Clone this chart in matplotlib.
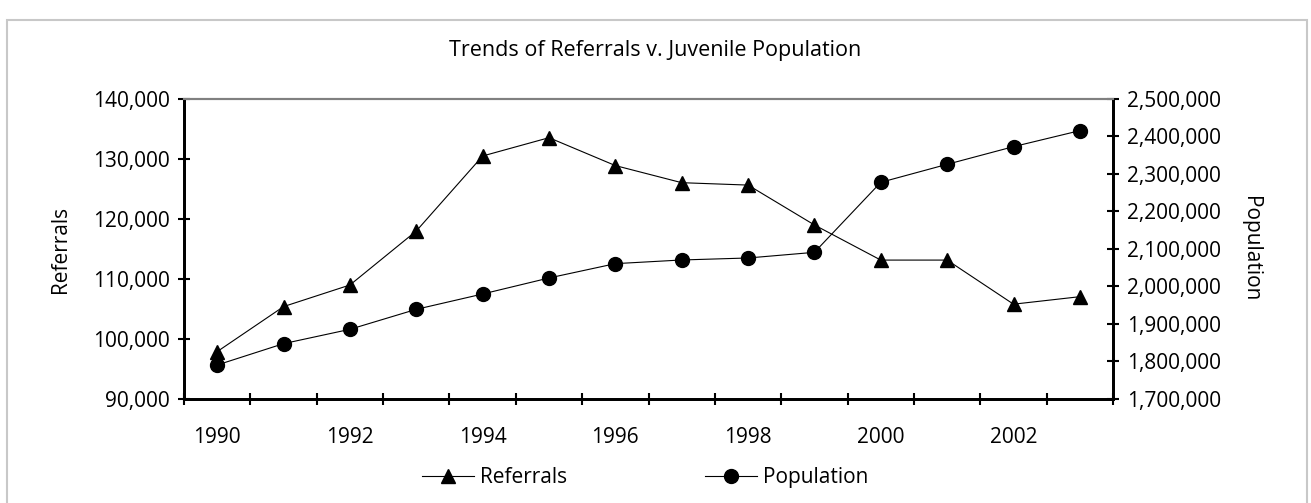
"""Trends of Referrals v. Juvenile Population"""
import numpy as np
import matplotlib
matplotlib.use("Agg")
import matplotlib.pyplot as plt
from matplotlib.patches import Rectangle
from matplotlib.ticker import FuncFormatter, FixedLocator

years = [1990, 1991, 1992, 1993, 1994, 1995, 1996,
         1997, 1998, 1999, 2000, 2001, 2002, 2003]
referrals = [97900, 105400, 109000, 118000, 130500, 133550, 128900,
             126050, 125650, 119000, 113150, 113150, 105800, 107050]
population = [1790700, 1847600, 1885800, 1939100, 1980000, 2022700, 2060900,
              2070700, 2076000, 2091100, 2277800, 2325800, 2372900, 2415600]
year_labels = ["1990", "1992", "1994", "1996", "1998", "2000", "2002"]

plt.rcParams['font.family'] = ['Open Sans', 'DejaVu Sans']


def comma(v, pos):
    """thousands separator"""
    return f"{int(v):,}"


def main():
    """Draw the chart"""
    fig = plt.figure(figsize=(13.11, 5.03), dpi=100)
    ax = fig.add_axes([0.1404, 0.2068, 0.7086, 0.5964])
    ax2 = ax.twinx()

    x = np.arange(len(years))
    ax.plot(x, referrals, "-", color="black", lw=0.8, marker="^",
            markersize=10.5, label="Referrals")
    ax2.plot(x, population, "-", color="black", lw=0.8, marker="o",
             markersize=10, label="Population")

    ax.set_xlim(-0.5, len(years) - 0.5)
    ax.set_ylim(90000, 140000)
    ax2.set_ylim(1700000, 2500000)
    ax.set_yticks(np.arange(90000, 140001, 10000))
    ax2.set_yticks(np.arange(1700000, 2500001, 100000))
    ax.yaxis.set_major_formatter(FuncFormatter(comma))
    ax2.yaxis.set_major_formatter(FuncFormatter(comma))

    # category boundaries as major ticks, labels on every other year
    ax.xaxis.set_major_locator(FixedLocator(np.arange(-0.5, len(years), 1.0)))
    ax.xaxis.set_major_formatter(FuncFormatter(lambda v, p: ""))
    label_pos = [years.index(int(y)) for y in year_labels]
    ax.xaxis.set_minor_locator(FixedLocator(label_pos))
    ax.set_xticklabels(year_labels, minor=True)
    ax.tick_params(axis="x", which="minor", length=0, pad=20, labelsize=15)

    for a in (ax, ax2):
        a.tick_params(axis="both", which="major", direction="inout",
                      length=8, width=1.5, labelsize=15, colors="black")
        for s in a.spines.values():
            s.set_linewidth(2)
            s.set_color("black")
        a.spines["top"].set_color("#808080")
        a.spines["top"].set_linewidth(1.5)
    ax.tick_params(axis="y", pad=6)
    ax2.tick_params(axis="y", pad=6)

    ax.set_ylabel("Referrals", fontsize=15, labelpad=16)
    ax2.set_ylabel("Population", fontsize=15, rotation=270, labelpad=29)
    fig.text(0.5, 0.90, "Trends of Referrals v. Juvenile Population",
             ha="center", va="center", fontsize=15.5)

    h1, l1 = ax.get_legend_handles_labels()
    h2, l2 = ax2.get_legend_handles_labels()
    fig.legend(h1 + h2, l1 + l2, loc="center", bbox_to_anchor=(0.492, 0.05),
               ncol=2, frameon=False, fontsize=15, handlelength=2.5,
               columnspacing=6.6, handletextpad=0.3)

    fig.patches.append(Rectangle((7 / 1311, -0.05), 1300 / 1311, 1.03 - 10 / 503,
                                 transform=fig.transFigure, fill=False,
                                 edgecolor="#c8c8c8", lw=1.5))
    fig.savefig("out.png", dpi=100)


main()
